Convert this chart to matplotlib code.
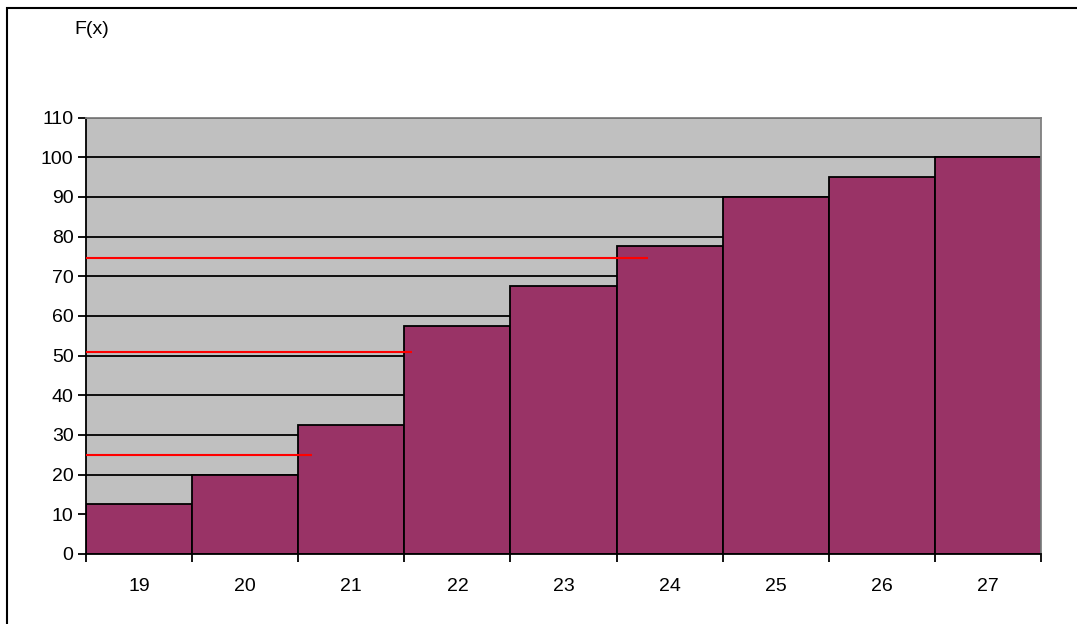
import matplotlib
matplotlib.use("Agg")
import matplotlib.pyplot as plt
from matplotlib.patches import Rectangle

plt.rcParams['font.family'] = ['Liberation Sans', 'DejaVu Sans']

# Cumulative distribution F(x), in percent
categories = ["19", "20", "21", "22", "23", "24", "25", "26", "27"]
cumulative = [12.5, 20, 32.5, 57.5, 67.5, 77.5, 90, 95, 100]
y_ticks = [0, 10, 20, 30, 40, 50, 60, 70, 80, 90, 100, 110]

# Quartile guides: level and the x position (in bar units) where each ends
quartile_levels = [25, 51, 74.5]
quartile_ends = [2.13, 3.07, 5.3]

W, H = 1077, 624
fig = plt.figure(figsize=(W / 100, H / 100), dpi=100)
fig.patch.set_facecolor("white")

# outer chart frame (extends past the right and bottom edges)
fig.patches.append(Rectangle((7 / W, -0.1), 1.2, 1.1 - 8 / H,
                             transform=fig.transFigure, fill=False,
                             edgecolor="black", linewidth=1.5))

left, right, top, bottom = 86, 1041, 117.5, 554
ax = fig.add_axes([left / W, 1 - bottom / H, (right - left) / W, (bottom - top) / H])
ax.set_facecolor("#C0C0C0")

n = len(categories)
ax.set_xlim(0, n)
ax.set_ylim(0, 110)

ax.set_yticks(y_ticks)
ax.yaxis.grid(True, color="black", linewidth=1.3)
ax.set_axisbelow(True)

xs = [i + 0.5 for i in range(n)]
ax.bar(xs, cumulative, width=1.0, color="#993366", edgecolor="black",
       linewidth=1.3, zorder=2)

for lvl, end in zip(quartile_levels, quartile_ends):
    ax.plot([0, end], [lvl, lvl], color="#FF0000", linewidth=1.5, zorder=3,
            solid_capstyle="butt")

ax.set_xticks(range(n + 1))
ax.set_xticklabels([])
ax.set_xticks(xs, minor=True)
ax.set_xticklabels(categories, minor=True)
ax.tick_params(axis="x", which="major", length=6, width=1.3, direction="out")
ax.tick_params(axis="x", which="minor", length=0, pad=17, labelsize=14)
ax.tick_params(axis="y", length=6, width=1.3, direction="out", pad=3, labelsize=14)

for side in ("top", "right"):
    ax.spines[side].set_color("#808080")
    ax.spines[side].set_linewidth(1.3)
for side in ("left", "bottom"):
    ax.spines[side].set_color("black")
    ax.spines[side].set_linewidth(1.3)

fig.text(92 / W, 1 - 30 / H, "F(x)", ha="center", va="center", fontsize=14)

fig.savefig("out.png", dpi=100)
